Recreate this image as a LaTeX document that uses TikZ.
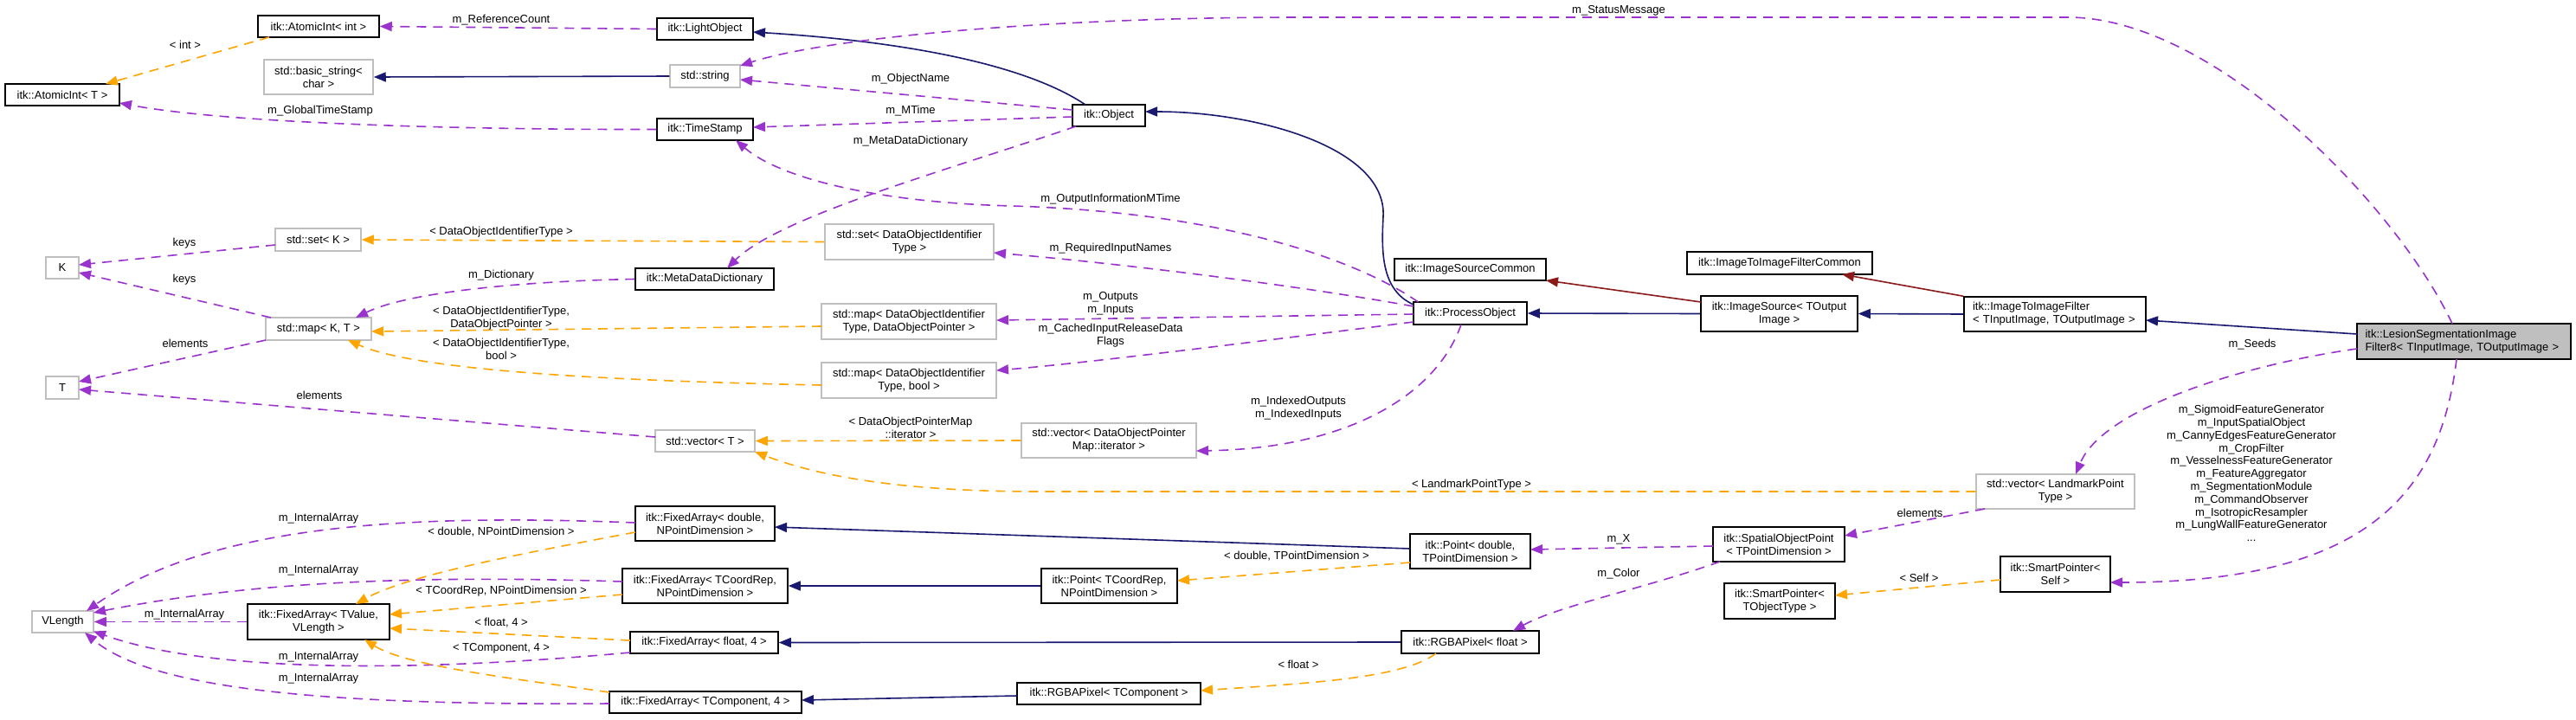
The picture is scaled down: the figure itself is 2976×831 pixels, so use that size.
\documentclass[tikz,border=0pt]{standalone}
\usepackage{fontspec}
\setmainfont{Liberation Sans}
\usetikzlibrary{arrows.meta,calc}
\definecolor{epurple}{HTML}{9A32CD}
\definecolor{eorange}{HTML}{FFA500}
\definecolor{eblue}{HTML}{191970}
\definecolor{ered}{HTML}{8B1A1A}
\definecolor{gborder}{HTML}{BFBFBF}
\definecolor{lfill}{HTML}{BFBFBF}
\tikzset{
  cls/.style={draw=black, line width=1.5pt, fill=white, inner sep=0pt, align=center},
  ext/.style={cls, draw=gborder},
  use/.style={draw=epurple, line width=1.6pt, dash pattern=on 11pt off 8pt, -{Triangle[length=14pt,width=11pt]}},
  tmpl/.style={use, draw=eorange},
  inh/.style={draw=eblue, line width=1.6pt, -{Triangle[length=14pt,width=11pt]}},
  prot/.style={inh, draw=ered},
  lbl/.style={inner sep=0pt, align=center},
}
\begin{document}
\begin{tikzpicture}[x=1pt,y=-1pt,font=\fontsize{13}{15}\selectfont]
\fill[white] (0,0) rectangle (2976,831);
\useasboundingbox (0,0) rectangle (2976,831);
% nodes
\node[cls, minimum width=140, minimum height=25] (aint) at (368,30.5) {itk::AtomicInt< int >};
\node[cls, minimum width=111, minimum height=25] (lobj) at (814.5,33.5) {itk::LightObject};
\node[ext, minimum width=126, minimum height=40] (bstr) at (368,89) {std::basic\_string<\\char >};
\node[ext, minimum width=81, minimum height=26] (str) at (814.5,88) {std::string};
\node[cls, minimum width=132, minimum height=25] (aintT) at (72,109.5) {itk::AtomicInt< T >};
\node[cls, minimum width=111, minimum height=25] (tstamp) at (814.5,149.5) {itk::TimeStamp};
\node[cls, minimum width=84, minimum height=25] (obj) at (1281,133.5) {itk::Object};
\node[ext, minimum width=99, minimum height=26] (setK) at (367.5,277) {std::set< K >};
\node[ext, minimum width=38, minimum height=25] (K) at (72,309.5) {K};
\node[cls, minimum width=160, minimum height=25] (mdd) at (814,322.5) {itk::MetaDataDictionary};
\node[ext, minimum width=195, minimum height=41] (setD) at (1050.5,279.5) {std::set< DataObjectIdentifier\\Type >};
\node[ext, minimum width=122, minimum height=26] (mapKT) at (368,380) {std::map< K, T >};
\node[ext, minimum width=202, minimum height=41] (mapDP) at (1050,371.5) {std::map< DataObjectIdentifier\\Type, DataObjectPointer >};
\node[ext, minimum width=202, minimum height=41] (mapDB) at (1050,439.5) {std::map< DataObjectIdentifier\\Type, bool >};
\node[ext, minimum width=38, minimum height=26] (T) at (72,448) {T};
\node[ext, minimum width=115, minimum height=25] (vecT) at (814.5,509.5) {std::vector< T >};
\node[ext, minimum width=202, minimum height=40] (vecDP) at (1281,509) {std::vector< DataObjectPointer\\Map::iterator >};
\node[cls, minimum width=175, minimum height=25] (isc) at (1698.5,311.5) {itk::ImageSourceCommon};
\node[cls, minimum width=214, minimum height=26] (i2ic) at (2056,304) {itk::ImageToImageFilterCommon};
\node[cls, minimum width=131, minimum height=26] (po) at (1698.5,362) {itk::ProcessObject};
\node[cls, minimum width=181, minimum height=41] (isrc) at (2055.5,362.5) {itk::ImageSource< TOutput\\Image >};
\node[cls, align=left, text width=190, inner xsep=10, minimum height=40] (i2i) at (2374,363) {itk::ImageToImageFilter\\< TInputImage, TOutputImage >};
\node[cls, fill=lfill, align=left, text width=228, inner xsep=9.5, minimum height=41] (lesion) at (2846.5,394.5) {itk::LesionSegmentationImage\\Filter8< TInputImage, TOutputImage >};
\node[ext, minimum width=71, minimum height=25] (vlen) at (72.5,718.5) {VLength};
\node[cls, minimum width=164, minimum height=41] (faTV) at (368,718.5) {itk::FixedArray< TValue,\\VLength >};
\node[cls, minimum width=161, minimum height=40] (faD) at (814.5,605) {itk::FixedArray< double,\\NPointDimension >};
\node[cls, minimum width=191, minimum height=40] (faC) at (814.5,677) {itk::FixedArray< TCoordRep,\\NPointDimension >};
\node[cls, minimum width=171, minimum height=25] (faF) at (813.5,742.5) {itk::FixedArray< float, 4 >};
\node[cls, minimum width=222, minimum height=25] (faTC) at (815,811.5) {itk::FixedArray< TComponent, 4 >};
\node[cls, minimum width=157, minimum height=40] (ptC) at (1281.5,677) {itk::Point< TCoordRep,\\NPointDimension >};
\node[cls, minimum width=212, minimum height=25] (rgbC) at (1281,801.5) {itk::RGBAPixel< TComponent >};
\node[cls, minimum width=139, minimum height=40] (ptD) at (1698.5,637) {itk::Point< double,\\TPointDimension >};
\node[cls, minimum width=159, minimum height=26] (rgbF) at (1698.5,742) {itk::RGBAPixel< float >};
\node[cls, minimum width=152, minimum height=40] (sop) at (2055,629) {itk::SpatialObjectPoint\\< TPointDimension >};
\node[cls, minimum width=128, minimum height=41] (spT) at (2056,694.5) {itk::SmartPointer<\\TObjectType >};
\node[ext, minimum width=183, minimum height=40] (vecL) at (2374.5,568) {std::vector< LandmarkPoint\\Type >};
\node[cls, minimum width=127, minimum height=41] (spS) at (2374.5,663.5) {itk::SmartPointer<\\Self >};
% edges
\draw[use] (lobj.west) -- (aint.east);
\draw[tmpl] ($(aint)+(-57,12.5)$) -- ($(aintT)+(50,-12.5)$);
\draw[inh] (str.west) -- (bstr.east);
\draw[use] (tstamp.west) .. controls (520,150) and (260,142) .. ($(aintT)+(66,9.5)$);
\draw[inh] ($(obj)+(-27,-12.5)$) .. controls (1170,65) and (1000,45) .. ($(lobj)+(55.5,3.5)$);
\draw[use] ($(lesion)+(-13.5,-20.5)$) .. controls (2770,240) and (2560,20) .. (2389,20) -- (1500,20) .. controls (1200,20) and (950,45) .. ($(str)+(40.5,-12)$);
\draw[use] ($(obj)+(-42,-6.5)$) -- ($(str)+(40.5,4)$);
\draw[use] ($(obj)+(-42,1.5)$) -- ($(tstamp)+(55.5,-2.5)$);
\draw[use] ($(po)+(-60,-13)$) .. controls (1560,295) and (1400,245) .. (1170,238) .. controls (1010,234) and (900,205) .. ($(tstamp)+(35.5,12.5)$);
\draw[use] ($(obj)+(-38,12.5)$) .. controls (1100,195) and (900,250) .. ($(mdd)+(26,-12.5)$);
\draw[inh] ($(po)+(-65.5,-10)$) .. controls (1595,335) and (1596,290) .. (1598,250) .. controls (1602,170) and (1450,129) .. ($(obj)+(42,-4.5)$);
\draw[tmpl] (setD.west) -- (setK.east);
\draw[use] ($(setK)+(-49.5,6)$) -- ($(K)+(19,-3.5)$);
\draw[use] ($(mapKT)+(-55,-13)$) -- ($(K)+(19,5.5)$);
\draw[use] (mdd.west) .. controls (600,325) and (470,338) .. ($(mapKT)+(43,-13)$);
\draw[tmpl] ($(mapDP)+(-101,5.5)$) -- ($(mapKT)+(61,3)$);
\draw[tmpl] ($(mapDB)+(-101,5.5)$) .. controls (700,440) and (480,428) .. ($(mapKT)+(34,13)$);
\draw[use] ($(mapKT)+(-61,13)$) -- ($(T)+(19,-7)$);
\draw[use] ($(vecT)+(-57.5,-4.5)$) -- ($(T)+(19,2)$);
\draw[use] ($(po)+(-65.5,-8)$) .. controls (1500,330) and (1300,305) .. ($(setD)+(97.5,12.5)$);
\draw[use] ($(po)+(-65.5,1)$) -- ($(mapDP)+(101,-1.5)$);
\draw[use] ($(po)+(-65.5,10)$) .. controls (1450,395) and (1250,420) .. ($(mapDB)+(101,-11.5)$);
\draw[use] ($(po)+(-10.5,13)$) .. controls (1660,455) and (1560,518) .. ($(vecDP)+(101,12)$);
\draw[tmpl] (vecDP.west) -- (vecT.east);
\draw[tmpl] (vecL.west) -- (1200,568) .. controls (1050,568) and (950,552) .. ($(vecT)+(57.5,12.5)$);
\draw[prot] ($(isrc)+(-90.5,-13.5)$) -- ($(isc)+(87.5,12.5)$);
\draw[inh] (isrc.west) -- (po.east);
\draw[prot] (i2i.north west) -- ($(i2ic)+(72,13)$);
\draw[inh] (i2i.west) -- (isrc.east);
\draw[inh] ($(lesion)+(-123.5,-8.5)$) -- ($(i2i)+(105,7)$);
\draw[use] ($(lesion)+(-123.5,8.5)$) .. controls (2600,420) and (2430,470) .. ($(vecL)+(23.5,-20)$);
\draw[use] ($(lesion)+(-8.5,20.5)$) .. controls (2820,565) and (2740,673) .. ($(spS)+(63.5,9.5)$);
\draw[use] ($(faD)+(-80.5,-1)$) .. controls (500,595) and (250,600) .. ($(vlen)+(27.5,-12.5)$);
\draw[use] ($(faC)+(-95.5,-5)$) .. controls (500,665) and (300,670) .. ($(vlen)+(35.5,-10.5)$);
\draw[use] (faTV.west) -- (vlen.east);
\draw[use] ($(faF)+(-85.5,11.5)$) .. controls (500,775) and (250,780) .. ($(vlen)+(35.5,11)$);
\draw[use] ($(faTC)+(-111,1.5)$) .. controls (400,815) and (180,800) .. ($(vlen)+(25.5,12.5)$);
\draw[tmpl] ($(faD)+(-80.5,10)$) .. controls (600,640) and (470,665) .. ($(faTV)+(43,-20.5)$);
\draw[tmpl] ($(faC)+(-95.5,10)$) -- ($(faTV)+(82,-8.5)$);
\draw[tmpl] ($(faF)+(-85.5,-2.5)$) -- ($(faTV)+(82,7.5)$);
\draw[tmpl] ($(faTC)+(-111,-11.5)$) .. controls (600,785) and (470,770) .. ($(faTV)+(53,20.5)$);
\draw[inh] ($(ptD)+(-69.5,-3)$) -- ($(faD)+(80.5,4)$);
\draw[inh] (ptC.west) -- (faC.east);
\draw[tmpl] ($(ptD)+(-69.5,13)$) -- ($(ptC)+(78.5,-6)$);
\draw[inh] (rgbF.west) -- (faF.east);
\draw[inh] ($(rgbC)+(-106,2.5)$) -- ($(faTC)+(111,-2.5)$);
\draw[tmpl] ($(rgbF)+(-39.5,13)$) .. controls (1620,785) and (1500,790) .. ($(rgbC)+(106,-3.5)$);
\draw[use] ($(sop)+(-76,2)$) -- ($(ptD)+(69.5,-2)$);
\draw[use] ($(sop)+(-68,20)$) .. controls (1900,680) and (1800,700) .. ($(rgbF)+(49.5,-13)$);
\draw[use] ($(vecL)+(-81.5,20)$) -- ($(sop)+(76,-10)$);
\draw[tmpl] ($(spS)+(-63.5,6.5)$) -- ($(spT)+(64,-6.5)$);
% labels
\node[lbl] (l1) at (579,23) {m\_ReferenceCount};
\node[lbl] (l2) at (214,52) {< int >};
\node[lbl] (l3) at (370,128) {m\_GlobalTimeStamp};
\node[lbl] (l4) at (1870,12) {m\_StatusMessage};
\node[lbl] (l5) at (1052,91) {m\_ObjectName};
\node[lbl] (l6) at (1052,128) {m\_MTime};
\node[lbl] (l7) at (1052,163) {m\_MetaDataDictionary};
\node[lbl] (l8) at (1283,230) {m\_OutputInformationMTime};
\node[lbl] (l9) at (579,268) {< DataObjectIdentifierType >};
\node[lbl] (l10) at (213,281) {keys};
\node[lbl] (l11) at (213,323) {keys};
\node[lbl] (l12) at (579,318) {m\_Dictionary};
\node[lbl] (l13) at (1283,287) {m\_RequiredInputNames};
\node[lbl] (l14) at (1283,351) {m\_Outputs\\m\_Inputs};
\node[lbl] (l15) at (579,368) {< DataObjectIdentifierType,\\DataObjectPointer >};
\node[lbl] (l16) at (1283,388) {m\_CachedInputReleaseData\\Flags};
\node[lbl] (l17) at (579,403.5) {< DataObjectIdentifierType,\\bool >};
\node[lbl] (l18) at (214,397) {elements};
\node[lbl] (l19) at (369,457) {elements};
\node[lbl] (l20) at (1500,471.5) {m\_IndexedOutputs\\m\_IndexedInputs};
\node[lbl] (l21) at (1052,494) {< DataObjectPointerMap\\::iterator >};
\node[lbl] (l22) at (1700,560) {< LandmarkPointType >};
\node[lbl] (l23) at (2602,398) {m\_Seeds};
\node[lbl, font=\fontsize{13}{14.8}\selectfont] (l24) at (2601,547) {m\_SigmoidFeatureGenerator\\m\_InputSpatialObject\\m\_CannyEdgesFeatureGenerator\\m\_CropFilter\\m\_VesselnessFeatureGenerator\\m\_FeatureAggregator\\m\_SegmentationModule\\m\_CommandObserver\\m\_IsotropicResampler\\m\_LungWallFeatureGenerator\\...};
\node[lbl] (l25) at (2218,593) {elements};
\node[lbl] (l26) at (1870,623) {m\_X};
\node[lbl] (l27) at (2217,668) {< Self >};
\node[lbl] (l28) at (1870,663) {m\_Color};
\node[lbl] (l29) at (368,599) {m\_InternalArray};
\node[lbl] (l30) at (368,659) {m\_InternalArray};
\node[lbl] (l31) at (213,710) {m\_InternalArray};
\node[lbl] (l32) at (368,759) {m\_InternalArray};
\node[lbl] (l33) at (368,784) {m\_InternalArray};
\node[lbl] (l34) at (579,615) {< double, NPointDimension >};
\node[lbl] (l35) at (579,683) {< TCoordRep, NPointDimension >};
\node[lbl] (l36) at (579,720) {< float, 4 >};
\node[lbl] (l37) at (579,749) {< TComponent, 4 >};
\node[lbl] (l38) at (1498,643) {< double, TPointDimension >};
\node[lbl] (l39) at (1500,768) {< float >};
\end{tikzpicture}
\end{document}
